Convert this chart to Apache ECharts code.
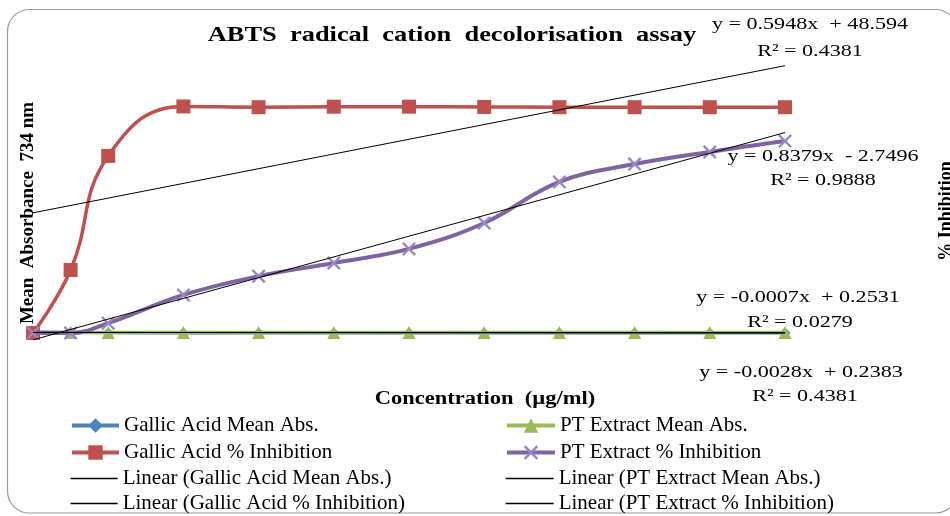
<!DOCTYPE html>
<html><head><meta charset="utf-8">
<script src="https://cdn.jsdelivr.net/npm/echarts@6/dist/echarts.min.js"></script>
<style>html,body{margin:0;padding:0;background:#fff}#c{width:950px;height:516px}</style>
</head><body><div id="c"></div>
<script>
// ---- data ----
const concentrations = [0, 5, 10, 20, 30, 40, 50, 60, 70, 80, 90, 100];
const gallicAbs = [0.464, 0.345, 0.132, 0.040, 0.041, 0.040, 0.040, 0.041, 0.040, 0.040, 0.041, 0.040];
const ptAbs = [0.27, 0.22, 0.19, 0.26, 0.20, 0.24, 0.18, 0.25, 0.21, 0.23, 0.17, 0.22];
const gallicInh = [0, 25.5, 71.6, 91.6, 91.3, 91.5, 91.5, 91.4, 91.3, 91.3, 91.3, 91.3];
const ptInh = [0, 0, 4.0, 15.4, 23.0, 28.3, 34.0, 44.5, 61.1, 68.3, 73.2, 77.6];
const seriesNames = ['Gallic Acid Mean Abs.', 'PT Extract Mean Abs.', 'Gallic Acid % Inhibition', 'PT Extract % Inhibition'];
const trendNames = ['Linear (Gallic Acid Mean Abs.)', 'Linear (PT Extract Mean Abs.)', 'Linear (Gallic Acid % Inhibition)', 'Linear (PT Extract % Inhibition)'];
const trendSlopes = [-0.0028, -0.0007, 0.5948, 0.8379];
const trendIntercepts = [0.2383, 0.2531, 48.594, -2.7496];
const trendEquations = ['y = -0.0028x  + 0.2383', 'y = -0.0007x  + 0.2531', 'y = 0.5948x  + 48.594', 'y = 0.8379x  - 2.7496'];
const trendR2 = ['R\u00b2 = 0.4381', 'R\u00b2 = 0.0279', 'R\u00b2 = 0.4381', 'R\u00b2 = 0.9888'];
const chartTitle = 'ABTS  radical  cation  decolorisation  assay';
const xTitle = 'Concentration  (\u00b5g/ml)';
const yTitle = 'Mean  Absorbance  734 nm';
const y2Title = '% Inhibition';

const pair = (ys) => concentrations.map((x, i) => [x, ys[i]]);
const xMin = concentrations[0], xMax = concentrations[concentrations.length - 1];
const trendData = trendSlopes.map((m, i) => [[xMin, m * xMin + trendIntercepts[i]], [xMax, m * xMax + trendIntercepts[i]]]);

const SERIF = '"Liberation Serif", "Times New Roman", serif';
const crossPath = 'path://M0,1.2L1.2,0L5,3.8L8.8,0L10,1.2L6.2,5L10,8.8L8.8,10L5,6.2L1.2,10L0,8.8L3.8,5Z';

const chart = echarts.init(document.getElementById('c'), null, {renderer: 'canvas'});

const dataSeries = [
  {name: seriesNames[0], data: pair(gallicAbs), color: '#4F81BD', symbol: 'diamond', size: 11, width: 3, smooth: false},
  {name: seriesNames[1], data: pair(ptAbs), color: '#9BBB59', symbol: 'triangle', size: 13, width: 3.5, smooth: false},
  {name: seriesNames[2], data: pair(gallicInh), color: '#C0504D', symbol: 'rect', size: 14, width: 3.5, smooth: 0.45},
  {name: seriesNames[3], data: pair(ptInh), color: '#8064A2', symbol: crossPath, size: 14, width: 4, smooth: 0.4, markerColor: '#9a86c2'}
].map((s, i) => ({
  type: 'line', name: s.name, data: s.data, smooth: s.smooth,
  symbol: s.symbol, symbolSize: s.size, showAllSymbol: true,
  lineStyle: {color: s.color, width: s.width},
  itemStyle: {color: s.markerColor || s.color},
  z: 2 + i, animation: false
}));

const trendSeries = trendNames.map((n, i) => ({
  type: 'line', name: n, data: trendData[i], symbol: 'none',
  lineStyle: {color: '#000', width: 1}, itemStyle: {color: 'rgba(0,0,0,0)', borderWidth: 0},
  z: 10, animation: false
}));

const eqPos = [[801, 373], [798, 298], [810, 25], [823, 157]];
const r2Pos = [[805, 397], [800, 323], [810, 52], [823, 181]];
const eqGraphics = [];
trendEquations.forEach((t, i) => {
  eqGraphics.push({type: 'text', x: eqPos[i][0], y: eqPos[i][1], scaleX: 1.3, z: 20,
    style: {text: t, font: '17px ' + SERIF, fill: '#000', textAlign: 'center', textVerticalAlign: 'middle'}});
  eqGraphics.push({type: 'text', x: r2Pos[i][0], y: r2Pos[i][1], scaleX: 1.3, z: 20,
    style: {text: trendR2[i], font: '17px ' + SERIF, fill: '#000', textAlign: 'center', textVerticalAlign: 'middle'}});
});

// Legend: two columns x four rows (Excel order), one legend box per entry
const legendRows = [
  [seriesNames[0], seriesNames[1]],
  [seriesNames[2], seriesNames[3]],
  [trendNames[0], trendNames[1]],
  [trendNames[2], trendNames[3]]
];
const legendText = {fontFamily: SERIF, fontSize: 21, color: '#000', lineHeight: 20};
const rowTops = [415, 442, 468, 493];
const colLefts = [70, 505];
const legends = [];
legendRows.forEach((row, r) => row.forEach((name, c) => {
  legends.push({top: rowTops[r], left: colLefts[c], padding: 0, itemWidth: c === 0 ? 47 : 48,
    itemHeight: r < 2 ? 18 : 15, lineStyle: {width: r < 2 ? 4 : 1.3},
    data: [name], textStyle: legendText, selectedMode: false});
}));

chart.setOption({
  backgroundColor: '#fff',
  animation: false,
  grid: {left: 33, width: 752, top: 36.2, height: 346.3, containLabel: false},
  xAxis: {type: 'value', min: xMin, max: xMax, show: false},
  yAxis: {type: 'value', min: -20, max: 120, show: false},
  legend: legends,
  graphic: [
    {type: 'rect', z: -1, shape: {x: 7.5, y: 9.5, width: 950, height: 503.5, r: 22},
     style: {fill: 'none', stroke: '#9a9a9a', lineWidth: 1.2}},
    {type: 'text', x: 452, y: 35, scaleX: 1.2, z: 20,
     style: {text: chartTitle, font: 'bold 22px ' + SERIF, fill: '#000', textAlign: 'center', textVerticalAlign: 'middle'}},
    {type: 'text', x: 485, y: 399, scaleX: 1.25, z: 20,
     style: {text: xTitle, font: 'bold 18px ' + SERIF, fill: '#000', textAlign: 'center', textVerticalAlign: 'middle'}},
    {type: 'text', x: 28, y: 213, rotation: Math.PI / 2, z: 20,
     style: {text: yTitle, font: 'bold 19px ' + SERIF, fill: '#000', textAlign: 'center', textVerticalAlign: 'middle'}},
    {type: 'text', x: 946, y: 211, rotation: Math.PI / 2, z: 20,
     style: {text: y2Title, font: 'bold 18px ' + SERIF, fill: '#000', textAlign: 'center', textVerticalAlign: 'middle'}}
  ].concat(eqGraphics),
  series: dataSeries.concat(trendSeries)
});
</script>
</body></html>
